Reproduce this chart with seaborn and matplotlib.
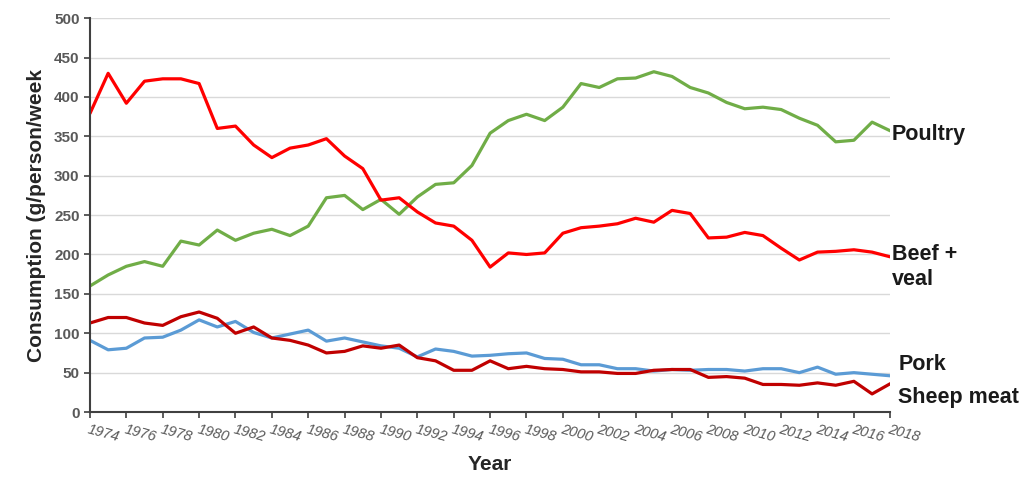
import numpy as np
import pandas as pd
import matplotlib.pyplot as plt
import seaborn as sns

years = list(range(1974, 2019))

poultry = [160, 174, 185, 191, 185, 217, 212, 231, 218, 227, 232, 224, 236, 272, 275,
           257, 270, 251, 273, 289, 291, 313, 354, 370, 378, 370, 387, 417, 412, 423,
           424, 432, 426, 412, 405, 393, 385, 387, 384, 373, 364, 343, 345, 368, 357]
beef_veal = [379, 430, 392, 420, 423, 423, 417, 360, 363, 339, 323, 335, 339, 347, 325,
             309, 269, 272, 254, 240, 236, 218, 184, 202, 200, 202, 227, 234, 236, 239,
             246, 241, 256, 252, 221, 222, 228, 224, 208, 193, 203, 204, 206, 203, 197]
pork = [91, 79, 81, 94, 95, 104, 117, 108, 115, 101, 94, 99, 104, 90, 94,
        89, 84, 81, 70, 80, 77, 71, 72, 74, 75, 68, 67, 60, 60, 55,
        55, 52, 54, 53, 54, 54, 52, 55, 55, 50, 57, 48, 50, 48, 46]
sheep = [113, 120, 120, 113, 110, 121, 127, 119, 100, 108, 94, 91, 85, 75, 77,
         84, 81, 85, 69, 65, 53, 53, 65, 55, 58, 55, 54, 51, 51, 49,
         49, 53, 54, 54, 44, 45, 43, 35, 35, 34, 37, 34, 39, 23, 36]

series = {"Poultry": poultry, "Beef + veal": beef_veal, "Pork": pork, "Sheep meat": sheep}
colors = {"Poultry": "#70AD47", "Beef + veal": "#FF0000", "Pork": "#5B9BD5", "Sheep meat": "#C00000"}

df = pd.DataFrame([
    {"Year": y, "Meat": name, "Consumption": v}
    for name, vals in series.items() for y, v in zip(years, vals)
])

sns.set_style("white")
plt.rcParams['font.family'] = ['Liberation Sans', 'DejaVu Sans']

fig = plt.figure(figsize=(10.34, 4.78), dpi=100)
ax = fig.add_axes([0.087, 0.138, 0.774, 0.824])

sns.lineplot(data=df, x="Year", y="Consumption", hue="Meat", palette=colors,
             linewidth=2.3, legend=False, ax=ax)

ax.set_xlim(1974, 2018)
ax.set_ylim(0, 500)
ax.set_yticks(np.arange(0, 501, 50))
ax.set_xticks(range(1974, 2019, 2))
ax.yaxis.grid(True, color="#d9d9d9", linewidth=1)
ax.set_axisbelow(True)

for side in ["top", "right"]:
    ax.spines[side].set_visible(False)
for side in ["left", "bottom"]:
    ax.spines[side].set_color("#404040")
    ax.spines[side].set_linewidth(1.5)

ax.tick_params(axis="y", direction="out", length=4, width=1.2, color="#404040",
               labelsize=11, labelcolor="#595959", left=True)
ax.tick_params(axis="x", direction="out", length=4, width=1.2, color="#404040",
               labelsize=10.5, labelcolor="#595959", bottom=True)
for lab in ax.get_yticklabels():
    lab.set_fontweight("bold")
ax.set_xticklabels([str(y) for y in range(1974, 2019, 2)], rotation=-15,
                   ha="left", va="top", rotation_mode="anchor", style="italic")

ax.set_xlabel("Year", fontsize=15, fontweight="bold", labelpad=8)
ax.set_ylabel("Consumption (g/person/week", fontsize=15, fontweight="bold", labelpad=6)

# labels at the right end of each line
label_style = dict(fontsize=15.5, fontweight="bold", color="#1a1a1a", clip_on=False, va="center")
ax.text(2018.1, 352, "Poultry", **label_style)
ax.text(2018.1, 184, "Beef +\nveal", linespacing=1.25, **label_style)
ax.text(2018.45, 60, "Pork", **label_style)
ax.text(2018.45, 18, "Sheep meat", **label_style)

fig.savefig("out.png", dpi=100)
